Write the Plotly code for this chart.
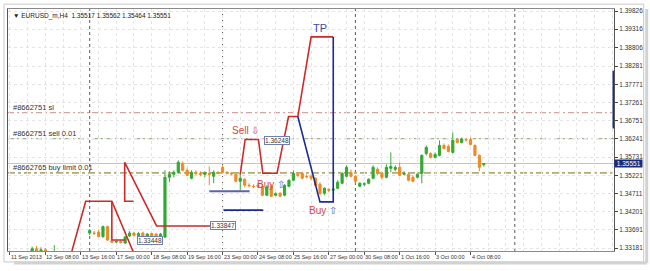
import plotly.graph_objects as go

# ---------------- data ----------------
bar_idx = list(range(108))
opens = [1.3262, 1.3272, 1.3281, 1.3288, 1.3292, 1.3302, 1.3316, 1.3306, 1.3313, 1.3298,
         1.3290, 1.3302, 1.3282, 1.3272, 1.3279, 1.3263, 1.3268, 1.3284,
         1.33600, 1.33600, 1.33628, 1.33502, 1.33781, 1.33377, 1.33349, 1.33363, 1.33321, 1.33516,
         1.33600, 1.33530, 1.33600, 1.33516, 1.33586, 1.33572, 1.33488, 1.33488,
         1.35163, 1.35247, 1.35303, 1.35554, 1.35359, 1.35135, 1.35303, 1.35275, 1.35247, 1.35275,
         1.35191, 1.35303, 1.35443, 1.35303, 1.35275, 1.35247, 1.35052, 1.35107, 1.34940, 1.34912,
         1.34940, 1.34912, 1.34661, 1.34912, 1.34661, 1.34717, 1.34661, 1.34912, 1.35080, 1.35247,
         1.35275, 1.35191, 1.35191, 1.35135, 1.34968, 1.34717, 1.34828, 1.34800, 1.34856, 1.34996,
         1.35191, 1.35303, 1.35191, 1.34912, 1.34968, 1.34996, 1.35135, 1.35387, 1.35275, 1.35163,
         1.35415, 1.35387, 1.35443, 1.35247, 1.35247, 1.35163, 1.35163, 1.35275, 1.35833, 1.35833,
         1.35722, 1.35777, 1.36057, 1.36029, 1.35861, 1.36224, 1.36141, 1.36224, 1.36224, 1.36057,
         1.35777, 1.35517]
highs = [1.3278, 1.3286, 1.3294, 1.3300, 1.3305, 1.3322, 1.3324, 1.3320, 1.3318, 1.3308,
         1.3326, 1.3306, 1.3292, 1.3286, 1.3288, 1.3276, 1.3290, 1.3296,
         1.33712, 1.33656, 1.33684, 1.33809, 1.33809, 1.33404, 1.33390, 1.33404, 1.33516, 1.33656,
         1.33628, 1.33628, 1.33642, 1.33600, 1.33614, 1.33600, 1.33600, 1.35359,
         1.35331, 1.35359, 1.35638, 1.35610, 1.35415, 1.35359, 1.35359, 1.35331, 1.35331, 1.35470,
         1.35359, 1.35331, 1.35498, 1.35331, 1.35317, 1.35275, 1.35275, 1.35135, 1.34996, 1.34968,
         1.34996, 1.34968, 1.34940, 1.34968, 1.34744, 1.34744, 1.34968, 1.35107, 1.35359, 1.35303,
         1.35303, 1.35247, 1.35247, 1.35163, 1.35024, 1.34884, 1.34856, 1.34884, 1.35080, 1.35303,
         1.35498, 1.35387, 1.35219, 1.35024, 1.35024, 1.35135, 1.35498, 1.35443, 1.35303, 1.35526,
         1.35861, 1.35498, 1.35582, 1.35331, 1.35275, 1.35219, 1.35275, 1.35805, 1.36057, 1.35861,
         1.35861, 1.36196, 1.36113, 1.36085, 1.36420, 1.36252, 1.36280, 1.36266, 1.36280, 1.36085,
         1.35805, 1.35562]
lows = [1.3255, 1.3266, 1.3274, 1.3280, 1.3285, 1.3290, 1.3298, 1.3295, 1.3292, 1.3285,
        1.3285, 1.3278, 1.3266, 1.3262, 1.3256, 1.3250, 1.3262, 1.3274,
        1.33544, 1.33544, 1.33488, 1.33460, 1.33377, 1.33321, 1.33321, 1.33307, 1.33293, 1.33488,
        1.33502, 1.33502, 1.33488, 1.33488, 1.33488, 1.33474, 1.33460, 1.33460,
        1.35024, 1.35163, 1.35275, 1.35331, 1.35191, 1.35107, 1.35219, 1.35191, 1.35163, 1.34940,
        1.34996, 1.35247, 1.35275, 1.35247, 1.35219, 1.35024, 1.34800, 1.34884, 1.34884, 1.34856,
        1.34856, 1.34633, 1.34633, 1.34605, 1.34633, 1.34605, 1.34633, 1.34884, 1.35052, 1.35163,
        1.35107, 1.35135, 1.35080, 1.34912, 1.34661, 1.34661, 1.34744, 1.34772, 1.34828, 1.34968,
        1.35163, 1.35163, 1.34996, 1.34884, 1.34912, 1.34968, 1.35107, 1.35219, 1.35107, 1.35135,
        1.35303, 1.35331, 1.35191, 1.35219, 1.35052, 1.35024, 1.35135, 1.34996, 1.35777, 1.35694,
        1.35694, 1.35750, 1.35945, 1.35861, 1.35833, 1.36113, 1.36113, 1.36168, 1.36057, 1.35750,
        1.35331, 1.35464]
closes = [1.3272, 1.3281, 1.3288, 1.3292, 1.3302, 1.3316, 1.3306, 1.3313, 1.3298, 1.3290,
          1.3302, 1.3282, 1.3272, 1.3279, 1.3263, 1.3268, 1.3284, 1.3286,
          1.33670, 1.33591, 1.33502, 1.33781, 1.33404, 1.33349, 1.33363, 1.33335, 1.33488, 1.33600,
          1.33530, 1.33586, 1.33516, 1.33572, 1.33516, 1.33502, 1.33572, 1.35163,
          1.35247, 1.35303, 1.35582, 1.35359, 1.35219, 1.35303, 1.35275, 1.35247, 1.35289, 1.35247,
          1.35303, 1.35275, 1.35303, 1.35275, 1.35261, 1.35052, 1.35135, 1.34940, 1.34926, 1.34905,
          1.34912, 1.34661, 1.34884, 1.34633, 1.34703, 1.34633, 1.34940, 1.35080, 1.35275, 1.35219,
          1.35135, 1.35177, 1.35135, 1.34940, 1.34717, 1.34856, 1.34800, 1.34828, 1.35024, 1.35275,
          1.35443, 1.35191, 1.35052, 1.34996, 1.34982, 1.35107, 1.35443, 1.35275, 1.35163, 1.35443,
          1.35470, 1.35443, 1.35219, 1.35275, 1.35080, 1.35052, 1.35247, 1.35777, 1.36001, 1.35722,
          1.35805, 1.36057, 1.35973, 1.35889, 1.36196, 1.36141, 1.36238, 1.36210, 1.36085, 1.35777,
          1.35443, 1.35551]

price_ticks = [1.39826, 1.39316, 1.38806, 1.38281, 1.37771, 1.37261, 1.36751,
               1.36241, 1.35731, 1.35221, 1.34711, 1.34201, 1.33691, 1.33181]
time_tick_idx = [0, 8, 16, 24, 32, 40, 48, 56, 64, 72, 80, 88, 96, 104]
time_tick_text = ["11 Sep 2013", "12 Sep 08:00", "13 Sep 16:00", "17 Sep 00:00",
                  "18 Sep 08:00", "19 Sep 16:00", "23 Sep 00:00", "24 Sep 08:00",
                  "25 Sep 16:00", "27 Sep 00:00", "30 Sep 08:00", "1 Oct 16:00",
                  "3 Oct 00:00", "4 Oct 08:00"]
separator_idx = [18, 48, 78, 114]

sl_price = 1.36978
sell_price = 1.36248
buylimit_price = 1.35290
bid_price = 1.35551
scroll_marker = [1.36532, 1.38151]
title_text = "▼ EURUSD_m,H4  1.35517 1.35562 1.35464 1.35551"

# hand-drawn trend lines (bar index, price)
red_a_x = [13.3, 17.1, 23.0, 28.8]
red_a_y = [1.32790, 1.34493, 1.34493, 1.32790]
red_a2_x = [23.0, 23.0, 26.0]
red_a2_y = [1.34493, 1.33404, 1.33404]
red_b_x = [27.9, 25.9, 25.9, 33.1, 45.2]
red_b_y = [1.34493, 1.34493, 1.35582, 1.33800, 1.33800]
red_c_x = [52.0, 53.1, 56.1, 57.1, 60.3, 62.9, 65.0, 68.0, 73.0]
red_c_y = [1.35247, 1.36224, 1.36224, 1.35275, 1.35275, 1.36866, 1.36866, 1.39100, 1.39100]
blue_x = [65.0, 70.0, 73.0, 73.0]
blue_y = [1.36866, 1.34474, 1.34474, 1.39100]
blue_h1_x = [45.0, 54.1]
blue_h1_y = [1.34772, 1.34772]
blue_h2_x = [48.2, 57.2]
blue_h2_y = [1.34242, 1.34242]

X_MIN, X_MAX = -0.45, 136.4
GREEN = "#34a834"
ORANGE = "#f08a24"
RED = "#cc2b2b"
BLUE = "#1e2c96"
FONT = "Liberation Sans"

fig = go.Figure()

fig.add_trace(go.Candlestick(
    x=bar_idx, open=opens, high=highs, low=lows, close=closes,
    increasing=dict(line=dict(color=GREEN, width=1), fillcolor=GREEN),
    decreasing=dict(line=dict(color=ORANGE, width=1), fillcolor=ORANGE),
    whiskerwidth=0, hoverinfo="skip"))

for xs, ys, col, w in [(red_a_x, red_a_y, RED, 1.6), (red_a2_x, red_a2_y, RED, 1.6),
                       (red_b_x, red_b_y, RED, 1.6), (red_c_x, red_c_y, RED, 1.6),
                       (blue_x, blue_y, BLUE, 1.6), (blue_h1_x, blue_h1_y, "#5a64a8", 2),
                       (blue_h2_x, blue_h2_y, "#1c2a8c", 1.6)]:
    fig.add_trace(go.Scatter(x=xs, y=ys, mode="lines", line=dict(color=col, width=w),
                             hoverinfo="skip"))

shapes = []
for p, col, dash, w in [(sl_price, "#d6a3a3", "6px,3px,2px,3px", 1.2),
                        (sell_price, "#9cb889", "6px,3px,2px,3px", 1.2),
                        (buylimit_price, "#b3ab78", "7px,3px,3px,3px", 1.8)]:
    shapes.append(dict(type="line", xref="x", x0=X_MIN, x1=X_MAX, yref="y", y0=p, y1=p,
                       line=dict(color=col, width=w, dash=dash), layer="below"))
shapes.append(dict(type="line", xref="x", x0=X_MIN, x1=X_MAX, yref="y", y0=bid_price, y1=bid_price,
                   line=dict(color="#c4c4c4", width=1), layer="below"))
for s in separator_idx:
    shapes.append(dict(type="line", xref="x", x0=s, x1=s, yref="paper", y0=0, y1=1,
                       line=dict(color="#5a5a5a", width=1, dash="dot"), layer="below"))
shapes.append(dict(type="line", xref="x", x0=X_MAX, x1=X_MAX, yref="y",
                   y0=scroll_marker[0], y1=scroll_marker[1],
                   line=dict(color="#1a2a8a", width=3)))
# outer window frame and drop shadow (paper coordinates, outside the plot area)
shapes.append(dict(type="rect", xref="paper", yref="paper", x0=-0.0066, x1=1.049,
                   y0=-0.045, y1=1.02, line=dict(color="#c8c8c8", width=1)))
shapes.append(dict(type="line", xref="paper", yref="paper", x0=0.01, x1=1.054,
                   y0=-0.05, y1=-0.05, line=dict(color="#d2d2d2", width=3)))
shapes.append(dict(type="line", xref="paper", yref="paper", x0=1.054, x1=1.054,
                   y0=-0.05, y1=1.0, line=dict(color="#d2d2d2", width=3)))

ann = []
for xi, t in zip(time_tick_idx, time_tick_text):
    ann.append(dict(x=xi, y=0, xref="x", yref="paper", text=t, showarrow=False,
                    xanchor="left", yanchor="top", xshift=-1, yshift=-1,
                    font=dict(family=FONT, size=5.5, color="#333333")))
ann.append(dict(x=1, y=bid_price, xref="paper", yref="y", text=" " + f"{bid_price:.5f}" + " ",
                showarrow=False, xanchor="left", yanchor="middle", xshift=0,
                bgcolor="#1b2a7c", borderpad=0,
                font=dict(family=FONT, size=6.5, color="white")))
ann.append(dict(x=0.005, y=1, xref="paper", yref="paper", text=title_text, showarrow=False,
                xanchor="left", yanchor="top", yshift=-1,
                font=dict(family=FONT, size=6.5, color="#222222")))
for p, t in [(sl_price, "#8662751 sl"), (sell_price, "#8662751 sell 0.01"),
             (buylimit_price, "#8662765 buy limit 0.01")]:
    ann.append(dict(x=0.005, y=p, xref="paper", yref="y", text=t, showarrow=False,
                    xanchor="left", yanchor="bottom", yshift=-1,
                    font=dict(family=FONT, size=7.5, color="#333333")))
ann.append(dict(x=70.0, y=1.39351, text="TP", showarrow=False,
                font=dict(family=FONT, size=11, color="#3c4aa8")))
ann.append(dict(x=53.1, y=1.36476, text="Sell <span style='color:#d05050'>⇩</span>",
                showarrow=False, font=dict(family=FONT, size=10, color="#d04848")))
ann.append(dict(x=58.9, y=1.34968, text="Buy <span style='color:#5a6ab8'>⇧</span>",
                showarrow=False, font=dict(family=FONT, size=10, color="#d04848")))
ann.append(dict(x=70.6, y=1.34242, text="Buy <span style='color:#5a6ab8'>⇧</span>",
                showarrow=False, font=dict(family=FONT, size=10, color="#d04848")))
for xi, p, t in [(57.4, 1.36196, "1.36248"), (45.2, 1.33823, "1.33847"), (28.6, 1.33404, "1.33448")]:
    ann.append(dict(x=xi, y=p, text=t, showarrow=False, xanchor="left", yanchor="middle",
                    bgcolor="white", bordercolor="#7080a8", borderwidth=1, borderpad=0,
                    font=dict(family=FONT, size=6.5, color="#333333")))

fig.update_layout(
    width=650, height=271, margin=dict(l=7, r=35, t=8, b=20),
    paper_bgcolor="white", plot_bgcolor="white", showlegend=False,
    shapes=shapes, annotations=ann,
    xaxis=dict(range=[X_MIN, X_MAX], rangeslider=dict(visible=False),
               tickvals=time_tick_idx, ticktext=[""] * len(time_tick_idx),
               showticklabels=False, ticks="outside", ticklen=3, tickcolor="#555555",
               showgrid=True, gridcolor="#e4e4e4", griddash="dot",
               minor=dict(tick0=0, dtick=4, showgrid=True, gridcolor="#e4e4e4", griddash="dot"),
               showline=True, mirror=True, linecolor="#8a8a8a", zeroline=False, fixedrange=True),
    yaxis=dict(range=[1.33097, 1.39882], side="right",
               tickvals=price_ticks, ticktext=[f"{v:.5f}" for v in price_ticks],
               ticks="outside", ticklen=3, tickcolor="#444444",
               tickfont=dict(family=FONT, size=6.5, color="#333333"),
               showgrid=True, gridcolor="#e4e4e4", griddash="dot",
               showline=True, mirror=True, linecolor="#555555", zeroline=False, fixedrange=True),
)

fig.write_html("out.html")
